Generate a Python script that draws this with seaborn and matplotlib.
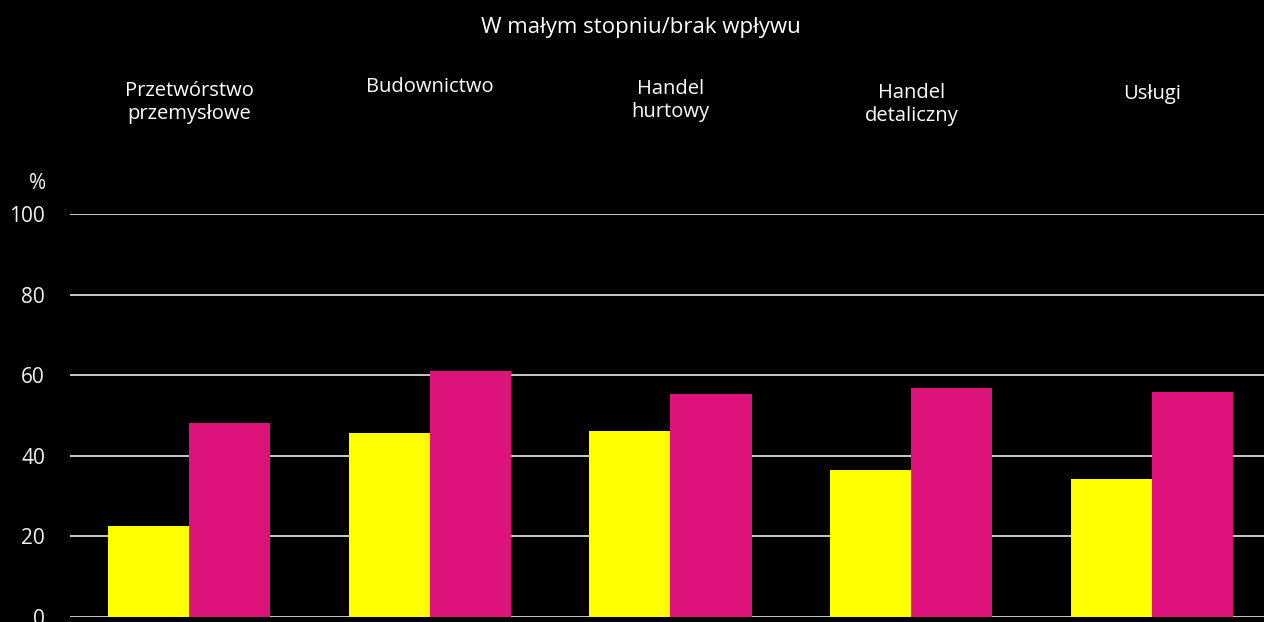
import matplotlib
matplotlib.use("Agg")
import matplotlib.pyplot as plt
import seaborn as sns
import pandas as pd

title = "W małym stopniu/brak wpływu"
categories = ["Przetwórstwo\nprzemysłowe", "Budownictwo", "Handel\nhurtowy",
              "Handel\ndetaliczny", "Usługi"]
series_names = ["Seria 1", "Seria 2"]
series_a = [22.4, 45.7, 46.0, 36.4, 34.2]
series_b = [48.1, 61.1, 55.4, 56.7, 55.8]
yticks = [0, 20, 40, 60, 80, 100]
colors = ["#FFFF00", "#DD137B"]

df = pd.DataFrame({
    "cat": categories * 2,
    "series": [series_names[0]] * len(categories) + [series_names[1]] * len(categories),
    "value": series_a + series_b,
})

sns.set_theme(style="dark")
plt.rcParams["font.family"] = ["Open Sans", "DejaVu Sans"]

fig = plt.figure(figsize=(12.64, 6.22), dpi=100, facecolor="black")
ax = fig.add_axes([70 / 1264, (622 - 616.7) / 622, (1264 - 70) / 1264, (616.7 - 214) / 622])
ax.set_facecolor("black")

sns.barplot(data=df, x="cat", y="value", hue="series", order=categories,
            hue_order=series_names, palette=colors, width=0.673, saturation=1,
            edgecolor="none", linewidth=0, legend=False, ax=ax, zorder=3)

ax.set_ylim(0, 100)
ax.set_xlim(-0.494, 4.465)
ax.set_yticks(yticks)
ax.set_yticklabels([str(t) for t in yticks], color="#f2f2f2", fontsize=15)
ax.tick_params(axis="y", length=0, pad=18)
ax.set_xticks([])
ax.set_xlabel("")
ax.set_ylabel("")
ax.grid(axis="y", color="#d9d9d9", linewidth=1.3, zorder=0)
ax.grid(axis="x", visible=False)
for s in ax.spines.values():
    s.set_visible(False)

# title
fig.text(641 / 1264, 1 - 27 / 622, title, ha="center", va="center",
         color="white", fontsize=16)
# category headers
header_y = [102, 87, 100, 104, 94]
for i, (c, yy) in enumerate(zip(categories, header_y)):
    xd = ax.transData.transform((i, 0))[0]
    fig.text(xd / 1264, 1 - yy / 622, c, ha="center", va="center",
             color="white", fontsize=14.5, linespacing=1.2)
# percent sign
fig.text(38 / 1264, 1 - 183 / 622, "%", ha="center", va="center",
         color="#f2f2f2", fontsize=15)

fig.savefig("out.png", dpi=100, facecolor="black")
